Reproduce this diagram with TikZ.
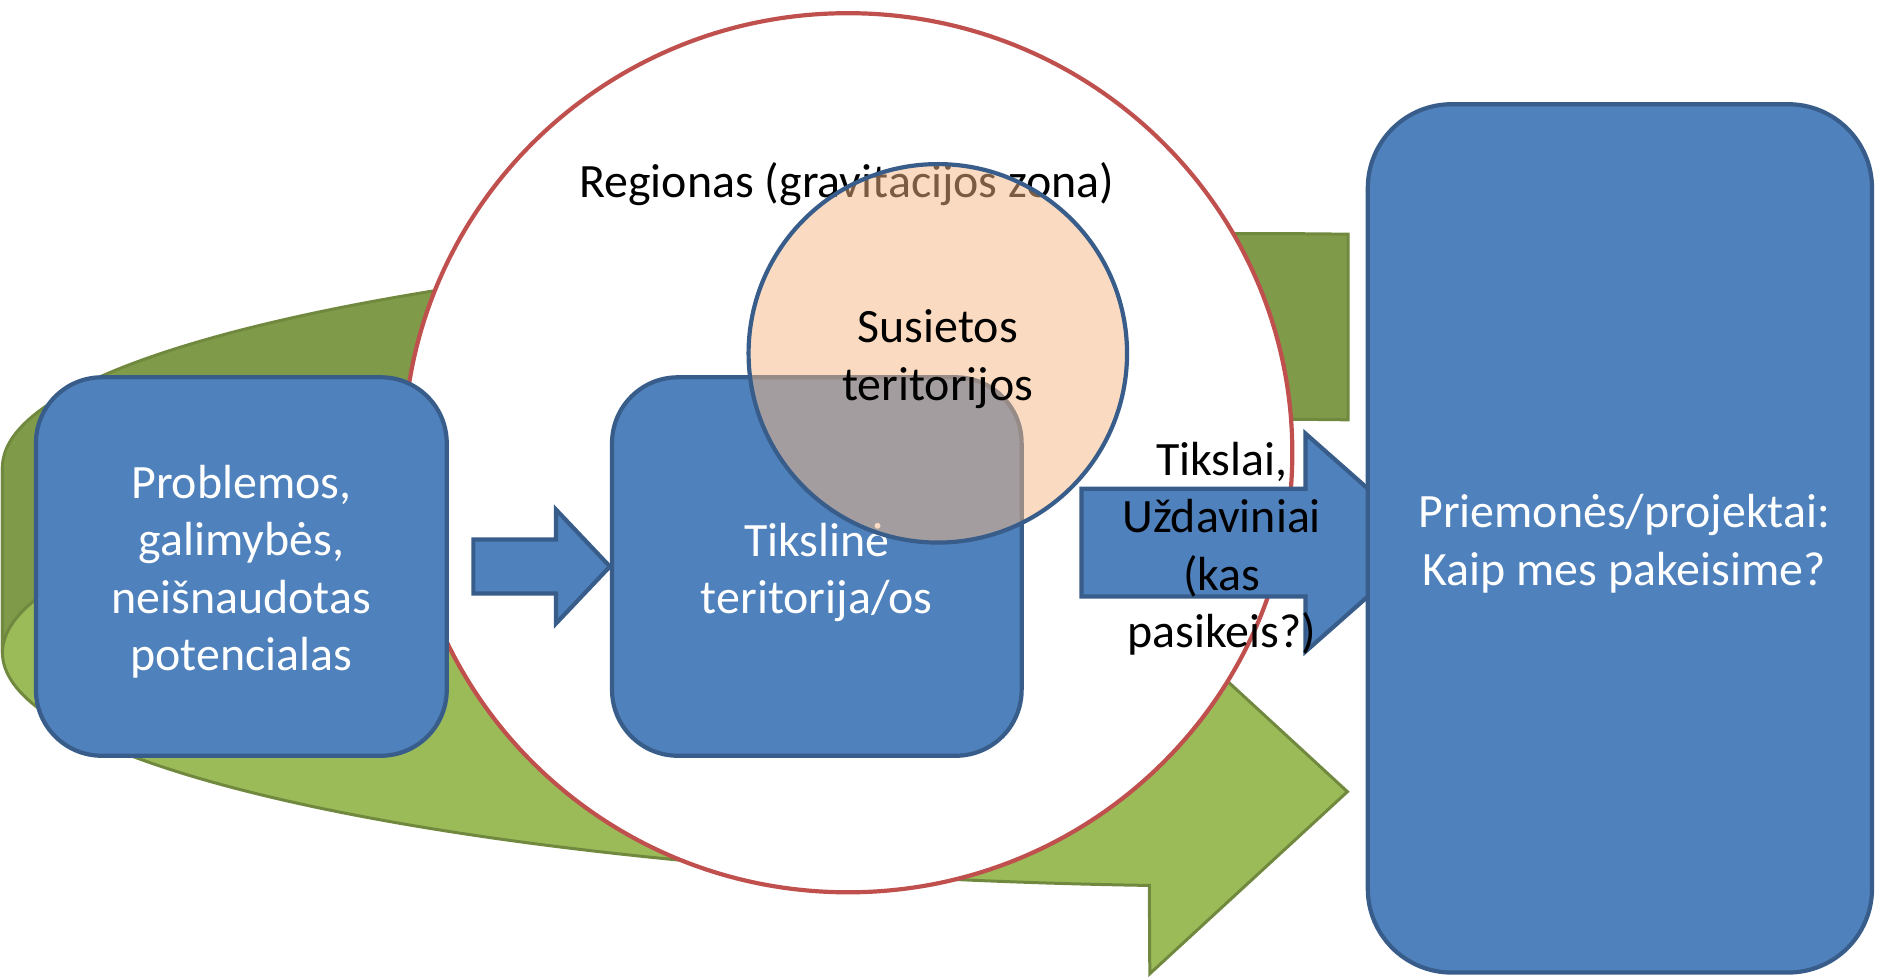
\documentclass[tikz,border=0pt]{standalone}
\usepackage{fontspec}
\setmainfont{Carlito}
\usetikzlibrary{calc}
\definecolor{bfill}{HTML}{4F81BD}
\definecolor{bline}{HTML}{385D8A}
\definecolor{rline}{HTML}{C0504D}
\definecolor{gdark}{HTML}{7F9A48}
\definecolor{glight}{HTML}{9BBB59}
\definecolor{gline}{HTML}{71893F}
\definecolor{peach}{RGB}{247,185,133}
\begin{document}
\begin{tikzpicture}[x=1pt,y=-1pt,
  every node/.style={font=\fontsize{40pt}{48pt}\selectfont},
  bluebox/.style={draw=bline, fill=bfill, line width=3.5pt, rounded corners=55pt,
    text=white, align=center, inner sep=0pt},
  bluearrow/.style={draw=bline, fill=bfill, line width=3.5pt},
  lbl/.style={align=center, text=black, inner sep=0pt},
  ribbonfront/.style={fill=glight, draw=gline, line width=2.5pt},
  ribbonback/.style={fill=gdark, draw=gline, line width=2.5pt}]
\useasboundingbox (0,0) rectangle (1568,815);
\clip (0,0) rectangle (1568,815);
% green circular ribbon arrow: front (light) part with arrow head
\path[ribbonfront] plot[domain=180:94.9, samples=90] ({1049+1047*cos(\x)},{390+195*sin(\x)})
  -- (960,509) -- (1125,661) -- (960,813)
  -- plot[domain=94.9:180, samples=90] ({1049+1047*cos(\x)},{545+195*sin(\x)}) -- cycle;
% back (dark) part with flat tail
\path[ribbonback] plot[domain=180:274.2, samples=90] ({1049+1047*cos(\x)},{390+195*sin(\x)})
  -- plot[domain=274.2:180, samples=90] ({1049+1047*cos(\x)},{545+195*sin(\x)}) -- cycle;
% region circle
\draw[rline, line width=3.5pt, fill=white] (708,378) ellipse [x radius=371pt, y radius=367pt];
\node[lbl] (reg) at (707,154) {Regionas (gravitacijos zona)};
% boxes
\node[bluebox, minimum width=343pt, minimum height=316pt] (prob) at (201.5,473) {};
\node[text=white, align=center, inner sep=0pt] (probt) at ([yshift=-4.5pt]prob.center)
  {Problemos,\\galimybės,\\neišnaudotas\\potencialas};
\node[bluebox, minimum width=342pt, minimum height=316pt] (tik) at (682,473) {};
\node[text=white, align=center, inner sep=0pt] (tikt) at (682,478)
  {Tikslinė\\teritorija/os};
% small arrow into the target box
\draw[bluearrow] ($(tik.west)+(-114,-22.5)$) -- ($(tik.west)+(-45,-22.5)$)
  -- ($(tik.west)+(-45,-47.5)$) -- (tik.west) -- ($(tik.west)+(-45,47.5)$)
  -- ($(tik.west)+(-45,22.5)$) -- ($(tik.west)+(-114,22.5)$) -- cycle;
% related territories circle (semi-transparent)
\node[circle, draw=bline, line width=3.5pt, fill=peach, fill opacity=0.5, draw opacity=1,
  minimum size=316pt, inner sep=0pt] (sus) at (783,295) {};
\node[lbl] (sust) at (783,300) {Susietos\\teritorijos};
% big arrow towards measures box
\coordinate (tipB) at (1193,453);
\draw[bluearrow] ($(tipB)+(-290,-45)$) -- ($(tipB)+(-103,-45)$) -- ($(tipB)+(-103,-91)$)
  -- (tipB) -- ($(tipB)+(-103,91)$) -- ($(tipB)+(-103,45)$) -- ($(tipB)+(-290,45)$) -- cycle;
\node[lbl] (tiks) at (1020,458) {Tikslai,\\Uždaviniai\\(kas\\pasikeis?)};
% measures box
\node[bluebox, rounded corners=70pt, minimum width=421pt, minimum height=725pt] (prie)
  at (1352.5,449.5) {};
\node[text=white, align=center, inner sep=0pt] (priet) at (1356,454)
  {Priemonės/projektai:\\Kaip mes pakeisime?};
\end{tikzpicture}
\end{document}
